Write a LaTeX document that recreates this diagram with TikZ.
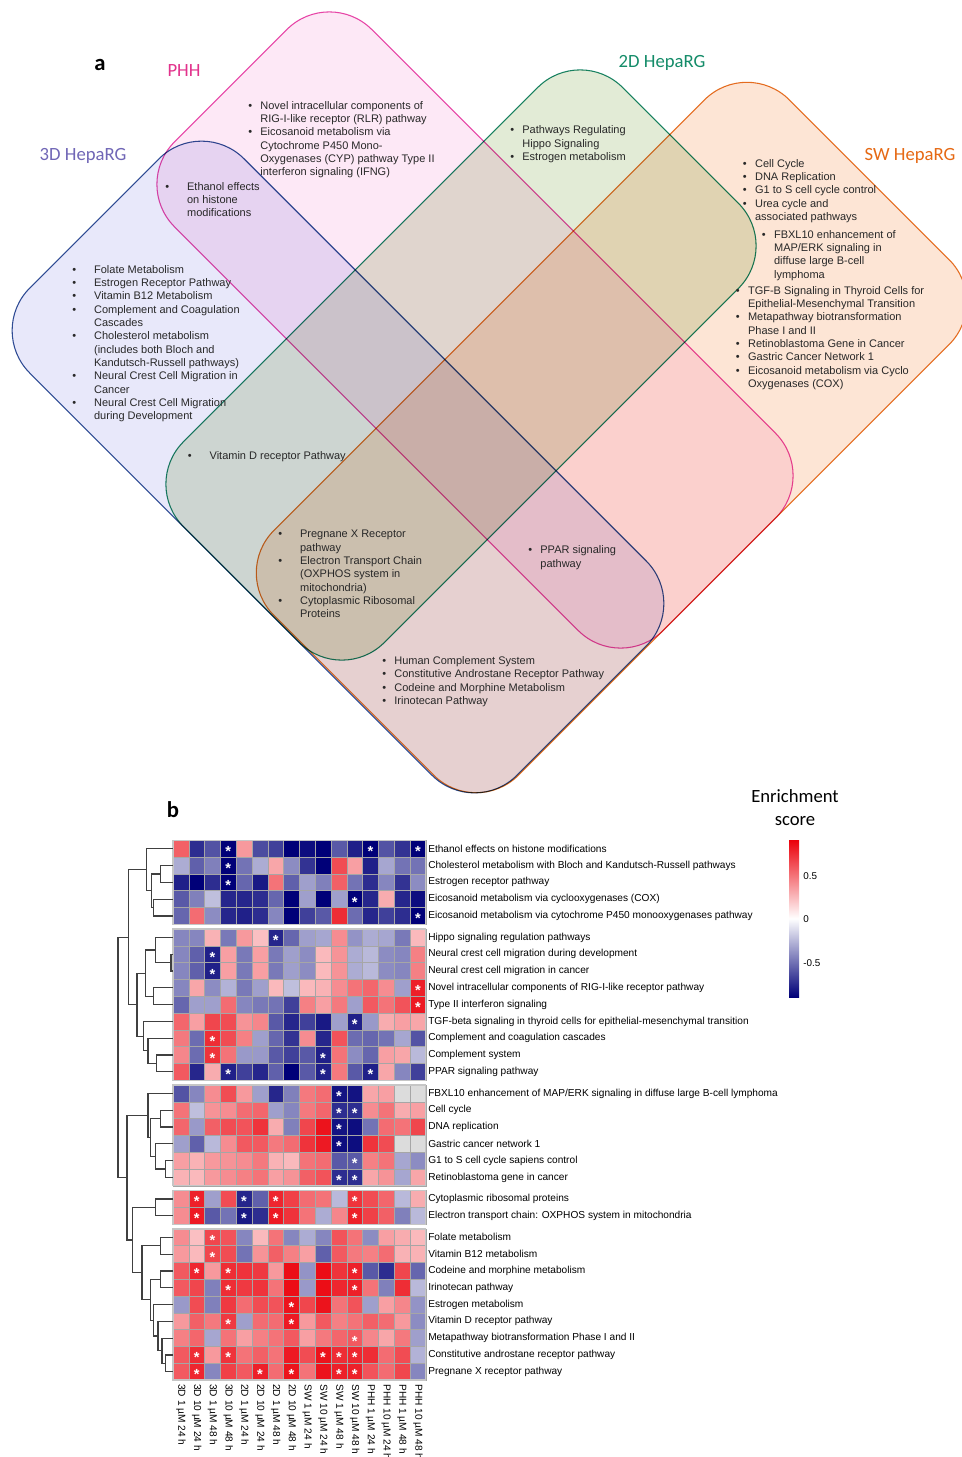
\documentclass[tikz,border=0pt]{standalone}
\usepackage{fontspec}
\setmainfont{Liberation Sans}
\newfontfamily\calfont{Carlito}
\usetikzlibrary{calc,positioning}

\definecolor{tdfill}{RGB}{232,232,250}
\definecolor{tdline}{RGB}{50,80,150}
\definecolor{tdtext}{RGB}{112,102,182}
\definecolor{phfill}{RGB}{253,232,246}
\definecolor{phline}{RGB}{232,72,170}
\definecolor{phtext}{RGB}{226,50,140}
\definecolor{twfill}{RGB}{226,235,214}
\definecolor{twline}{RGB}{25,135,105}
\definecolor{twtext}{RGB}{20,140,105}
\definecolor{swfill}{RGB}{253,229,213}
\definecolor{swline}{RGB}{230,115,35}
\definecolor{swtext}{RGB}{230,105,20}
\definecolor{hmred}{RGB}{235,0,10}
\definecolor{hmblue}{RGB}{0,0,120}
\definecolor{nacell}{RGB}{220,220,220}
\definecolor{itemtext}{RGB}{40,40,40}

\newcommand\px{0.75pt}
\newcommand\vlist[2]{\begin{tabular}[t]{@{}l@{\hspace{#1}}l@{}}#2\end{tabular}}
\newcommand\dend[4]{%
  \path let \p1=($(#2)!.5!(#3)$) in (#4*\px,\y1) coordinate (#1);
  \draw[dendro] (#2) -| (#1) |- (#3);}

\tikzset{
    venn/.style = {rectangle,
                   rounded corners=45pt,
                   line width=0.8pt,
                   inner sep=0pt},
    settitle/.style = {font=\calfont\fontsize{14}{17.25}\selectfont},
    panel/.style = {font=\calfont\bfseries\fontsize{17}{19}\selectfont},
    vtext/.style = {anchor=base west,
                    inner sep=0pt,
                    text=itemtext,
                    font=\fontsize{8.25}{10}\selectfont},
    cell/.style = {draw=gray!70,
                   line width=0.35pt},
    hmgroup/.style = {draw=gray!45,
                      line width=1pt},
    hmstar/.style = {text=white,
                     inner sep=0pt,
                     yshift=-2.2pt,
                     font=\bfseries\fontsize{11}{11}\selectfont},
    rowlabel/.style = {anchor=west,
                       inner sep=0pt,
                       font=\fontsize{7.6}{9}\selectfont},
    collabel/.style = {anchor=west,
                       rotate=-90,
                       inner sep=0pt,
                       font=\fontsize{7.6}{9}\selectfont},
    dendro/.style = {draw=black!75,
                     line width=0.9pt},
    colorbar/.style = {rectangle,
                       inner sep=0pt,
                       top color=hmred,
                       bottom color=hmblue,
                       middle color=white},
    ticklabel/.style = {anchor=west,
                        inner sep=0pt,
                        font=\fontsize{7.4}{9}\selectfont}
}

\begin{document}
\begin{tikzpicture}[x=0.75pt,y=-0.75pt]
\fill[white] (0,0) rectangle (962,1457);
\useasboundingbox (0,0) rectangle (962,1457);

% panel a
\begin{scope}[blend mode=multiply]
    \node[venn, draw=tdline, fill=tdfill, minimum width=689*\px, minimum height=303*\px, rotate=-45] (v3d) at (338,467) {};
    \node[venn, draw=phline, fill=phfill, minimum width=691*\px, minimum height=279*\px, rotate=-45] (vphh) at (475,330) {};
    \node[venn, draw=twline, fill=twfill, minimum width=621*\px, minimum height=284*\px, rotate=45] (v2d) at (461,365) {};
    \node[venn, draw=swline, fill=swfill, minimum width=729*\px, minimum height=346*\px, rotate=45] (vsw) at (611.5,437.5) {};
\end{scope}

\node[panel] (la) at (100,65) {a};
\node[settitle, text=phtext] (tphh) at (184,71) {PHH};
\node[settitle, text=tdtext] (t3d) at (83,156) {3D HepaRG};
\node[settitle, text=twtext] (t2d) at (662,63) {2D HepaRG};
\node[settitle, text=swtext] (tsw) at (910,156) {SW HepaRG};

\node[vtext] (iphh) at (248,109.2) {\vlist{6.2pt}{\textbullet & Novel intracellular components of\\
    & RIG-I-like receptor (RLR) pathway\\
    \textbullet & Eicosanoid metabolism via\\
    & Cytochrome P450 Mono-\\
    & Oxygenases (CYP) pathway Type II\\
    & interferon signaling (IFNG)}};
\node[vtext] (ieth) at (165,190.2) {\vlist{13.5pt}{\textbullet & Ethanol effects\\
    & on histone\\
    & modifications}};
\node[vtext] (i3d) at (72,273.2) {\vlist{13.5pt}{\textbullet & Folate Metabolism\\
    \textbullet & Estrogen Receptor Pathway\\
    \textbullet & Vitamin B12 Metabolism\\
    \textbullet & Complement and Coagulation\\
    & Cascades\\
    \textbullet & Cholesterol metabolism\\
    & (includes both Bloch and\\
    & Kandutsch-Russell pathways)\\
    \textbullet & Neural Crest Cell Migration in\\
    & Cancer\\
    \textbullet & Neural Crest Cell Migration\\
    & during Development}};
\node[vtext] (i2d) at (510,133.8) {\vlist{6.2pt}{\textbullet & Pathways Regulating\\
    & Hippo Signaling\\
    \textbullet & Estrogen metabolism}};
\node[vtext] (isw) at (742.7,167.2) {\vlist{6.2pt}{\textbullet & Cell Cycle\\
    \textbullet & DNA Replication\\
    \textbullet & G1 to S cell cycle control\\
    \textbullet & Urea cycle and\\
    & associated pathways}};
\node[vtext] (ifbx) at (761.7,238.2) {\vlist{6.2pt}{\textbullet & FBXL10 enhancement of\\
    & MAP/ERK signaling in\\
    & diffuse large B-cell\\
    & lymphoma}};
\node[vtext] (itgf) at (735.7,294.2) {\vlist{6.2pt}{\textbullet & TGF-B Signaling in Thyroid Cells for\\
    & Epithelial-Mesenchymal Transition\\
    \textbullet & Metapathway biotransformation\\
    & Phase I and II\\
    \textbullet & Retinoblastoma Gene in Cancer\\
    \textbullet & Gastric Cancer Network 1\\
    \textbullet & Eicosanoid metabolism via Cyclo\\
    & Oxygenases (COX)}};
\node[vtext] (ivd) at (187.5,459.5) {\vlist{13.5pt}{\textbullet & Vitamin D receptor Pathway}};
\node[vtext] (ipxr) at (278,537.8) {\vlist{13.5pt}{\textbullet & Pregnane X Receptor\\
    & pathway\\
    \textbullet & Electron Transport Chain\\
    & (OXPHOS system in\\
    & mitochondria)\\
    \textbullet & Cytoplasmic Ribosomal\\
    & Proteins}};
\node[vtext] (ippar) at (528,553.8) {\vlist{6.2pt}{\textbullet & PPAR signaling\\
    & pathway}};
\node[vtext] (icar) at (382,664.5) {\vlist{6.2pt}{\textbullet & Human Complement System\\
    \textbullet & Constitutive Androstane Receptor Pathway\\
    \textbullet & Codeine and Morphine Metabolism\\
    \textbullet & Irinotecan Pathway}};

% panel b
\node[panel] (lb) at (173,810) {b};
\node[settitle, align=center] (cbtitle) at (795,808) {Enrichment\\score};
\node[colorbar, minimum width=10*\px, minimum height=157*\px] (cbar) at (794,918.5) {};
\node[ticklabel] (tk1) at (803,876) {0.5};
\node[ticklabel] (tk2) at (803,919) {0};
\node[ticklabel] (tk3) at (803,963) {-0.5};

\foreach \vals [count=\ri] in {
    {2.5,-3.3,-2.7,-4,1.6,-2.8,-3,-4,-3.8,-4,-2.6,-3.5,-4,-2.7,-3.2,-4},
    {-1.3,-2.5,-2,-4,-2.2,-1.3,1.4,-1.8,-3.2,-4,2.8,1.5,-3.5,-1.4,-2.2,-2.2},
    {-3.5,-4,-3.3,-4,-2.4,-3.6,2.2,-2.5,-1.5,-2,2.5,-2.2,-3.3,-1.9,-3.2,-1.8},
    {-2.6,-2,-1,-3.4,-3.4,-3.3,-2.4,-4,-1.5,-4,-1.5,-4,-3.4,1.3,-3.4,-3.8},
    {-2.4,2.3,-1.8,-3.4,-3.5,-3.3,-1.9,-4,-3,-2.6,3.3,-2.3,-3.4,-3,-3.3,-4},
    {-1.9,-1.9,1.2,-2.1,1.6,1,-3.4,-2.4,-1.5,-1.4,1.8,-1.7,-1.3,-1.4,-2.1,1.1},
    {-1.9,-2.5,-3.5,1.5,-2.1,1.5,-2.1,-1.5,-1.8,1.1,1.7,-1.3,-1.1,-1.8,-1.9,2},
    {-1.9,-2.5,-3.5,1.5,-2.1,1.5,-2.1,-1.5,-1.8,1.1,1.7,-1.3,-1.1,-1.8,-1.9,2},
    {-1.9,1.4,-1.8,-1.2,-2.1,-1.5,1.1,-1,1.1,1.2,1.8,2.2,2.4,1.8,-1.5,3.5},
    {-2.4,-1.5,-1.5,2.3,-1.9,-2.1,-2.2,-3,2,1.5,2.1,-1.5,2.6,2.2,2.7,3.6},
    {2.4,1.5,2.9,2.8,1.7,1.9,-2.6,-3.4,-3,-3.6,-1.5,-3.5,-1.6,1.3,1.5,1.4},
    {2.1,-2.3,3.3,2.8,2,-1.5,-2.4,-3.2,1.8,-3.4,2.7,-2.3,-2.4,-2.2,-1.4,-2.7},
    {1.9,-2.3,3.2,2.2,-1.6,-1.6,-2.6,-3,-2.6,-3.5,2.2,-1.8,-2.4,1.5,1.4,-1.1},
    {2.6,-3.4,1.3,-3.5,-3,-3.4,-2.5,-4,-2.6,-3.5,2.1,-2.6,-3.5,1.4,-1.9,-3},
    {-2.7,-1.9,1.8,2.8,1.6,-1.5,-3.4,-2,2.1,2.3,-3.7,-3.7,1.4,1.5,9,9},
    {2.2,-1,1.7,1.8,2.3,2.4,-1.5,-1.9,2.1,2.4,-3.3,-3.3,1.8,2.2,1.3,1.5},
    {2.4,-1.6,2.5,2.8,2.7,3.2,1.3,-2,2.9,3.7,-3.7,-3.8,-2.2,2.3,2.2,2.9},
    {-1.5,-2.5,-1.1,1.8,2.6,2.6,2.1,2.3,3.2,3.6,-3.8,-3.8,3.2,2.8,9,9},
    {1.5,1.2,1.6,1.7,1.8,2.1,1.2,1.1,2.2,2.3,-2.6,-2.6,2,2.2,-1.4,-1.8},
    {1.2,1.1,1.6,1.8,2,2.2,1.5,1.7,2.5,2.7,-3.3,-3.3,1.4,1.7,-1.4,1.4},
    {1.8,3.5,-1.5,2.8,-3.4,-2.5,3.4,3,2.3,2.2,-1.1,3.2,2.8,2.4,-1.1,1.3},
    {1.8,3.6,-2.6,-2.2,-3.6,-3.3,3.6,3.2,2.2,-1.3,1.9,3.5,3,2.5,-2,-1.1},
    {1.8,1,2.9,2.7,-1.9,1.1,2.2,-1.9,-1.3,-1.9,2.7,2.2,-1.8,1.5,1.3,1.1},
    {1.6,1.1,2.9,2.8,-2.2,1.7,2.5,2,1.5,-2.5,2.6,2.1,2,2.3,1.2,1.2},
    {2.6,3.4,1.6,3.3,3.2,3.1,1.6,3.8,-1.7,3.8,3.2,3.5,-2.6,-3.3,2.9,-2.4},
    {2.6,2.9,-2,3.3,3.1,3.2,2.2,3.8,-1.6,3.8,3.4,3.5,2.2,-2,3.3,-1.1},
    {-1.6,2.8,-2,3.1,2.3,2.8,2.7,3.7,2.9,3.7,2.2,2.7,-1.5,1.5,1.9,-1.7},
    {1.6,2.5,2.1,3.1,-1.5,2.3,2.3,3.6,1.6,2.6,2,2.2,2.5,2.3,1.6,-1.8},
    {2,2.4,-1.4,2.2,1.5,2,2.2,2.6,1.5,2.1,2.4,2.6,1.9,1.4,2.1,-1.5},
    {2.6,3.3,1.6,3.2,2.2,2.5,2.2,3.6,2.8,3.7,3.3,3.4,3.3,2.3,2.8,-1.2},
    {2.6,3.4,-1.9,3,2.6,3.5,2.3,3.7,2.2,3.7,3.5,3.5,2.7,2.3,2.9,-1.9}}{
    \pgfmathsetmacro\yt{840.3+(\ri-1)*16.8+4.75*((\ri>5)+(\ri>14)+(\ri>20)+(\ri>22))}
    \coordinate (L\ri) at (173,\yt+8.4);
    \foreach \val [count=\ci] in \vals {
        \pgfmathsetmacro\pct{min(100,abs(\val)*25)}
        \ifdim\val pt>5pt \colorlet{cellc}{nacell}\else
            \ifdim\val pt<0pt \colorlet{cellc}{hmblue!\pct!white}\else\colorlet{cellc}{hmred!\pct!white}\fi\fi
        \draw[cell, fill=cellc] ({173+(\ci-1)*15.8},\yt) rectangle ++(15.8,16.8);
    }
}
\foreach \gt/\gb in {840.3/924.3, 929.05/1080.25, 1085/1185.8, 1190.55/1224.15, 1228.9/1380.1}
    \draw[hmgroup] (173,\gt) rectangle (425.8,\gb);

\foreach \ci/\ri in {4/1,13/1,16/1,4/2,4/3,12/4,16/5,7/6,3/7,3/8,16/9,16/10,12/11,3/12,3/13,10/13,
    4/14,10/14,13/14,11/15,11/16,12/16,11/17,11/18,12/19,11/20,12/20,2/21,5/21,7/21,12/21,
    2/22,5/22,7/22,12/22,3/23,3/24,2/25,4/25,12/25,4/26,12/26,8/27,4/28,8/28,12/29,
    2/30,4/30,10/30,11/30,12/30,2/31,6/31,8/31,11/31,12/31}
    \node[hmstar] (s\ci-\ri) at ($(L\ri)+({(\ci-0.5)*15.8},0)$) {*};

\foreach \lab [count=\ri] in {Ethanol effects on histone modifications,
    Cholesterol metabolism with Bloch and Kandutsch-Russell pathways,
    Estrogen receptor pathway,
    Eicosanoid metabolism via cyclooxygenases (COX),
    Eicosanoid metabolism via cytochrome P450 monooxygenases pathway,
    Hippo signaling regulation pathways,
    Neural crest cell migration during development,
    Neural crest cell migration in cancer,
    Novel intracellular components of RIG-I-like receptor pathway,
    Type II interferon signaling,
    TGF-beta signaling in thyroid cells for epithelial-mesenchymal transition,
    Complement and coagulation cascades,
    Complement system,
    PPAR signaling pathway,
    FBXL10 enhancement of MAP/ERK signaling in diffuse large B-cell lymphoma,
    Cell cycle,
    DNA replication,
    Gastric cancer network 1,
    G1 to S cell cycle sapiens control,
    Retinoblastoma gene in cancer,
    Cytoplasmic ribosomal proteins,
    Electron transport chain: OXPHOS system in mitochondria,
    Folate metabolism,
    Vitamin B12 metabolism,
    Codeine and morphine metabolism,
    Irinotecan pathway,
    Estrogen metabolism,
    Vitamin D receptor pathway,
    Metapathway biotransformation Phase I and II,
    Constitutive androstane receptor pathway,
    Pregnane X receptor pathway}
    \node[rowlabel] (lab\ri) at ($(L\ri)+(255,0)$) {\lab};

\foreach \lab [count=\ci] in {3D 1 µM 24 h, 3D 10 µM 24 h, 3D 1 µM 48 h, 3D 10 µM 48 h,
    2D 1 µM 24 h, 2D 10 µM 24 h, 2D 1 µM 48 h, 2D 10 µM 48 h,
    SW 1 µM 24 h, SW 10 µM 24 h, SW 1 µM 48 h, SW 10 µM 48 h,
    PHH 1 µM 24 h, PHH 10 µM 24 h, PHH 1 µM 48 h, PHH 10 µM 48 h}
    \node[collabel] (col\ci) at ({173+(\ci-0.5)*15.8},1384) {\lab};

% dendrogram
\dend{a1}{L2}{L3}{160.3}
\dend{a2}{L4}{L5}{153.7}
\dend{a3}{a1}{a2}{151.3}
\dend{a4}{L1}{a3}{146.3}
\dend{b1}{L7}{L8}{171}
\dend{b2}{L6}{b1}{155.3}
\dend{b3}{L9}{L10}{153.7}
\dend{b4}{b2}{b3}{145.3}
\dend{b5}{L13}{L14}{156.3}
\dend{b6}{L12}{b5}{148}
\dend{b7}{L11}{b6}{143.7}
\dend{b8}{b4}{b7}{137}
\dend{t1}{a4}{b8}{128.7}
\dend{c1}{L16}{L17}{160.3}
\dend{c2}{L19}{L20}{165.3}
\dend{c3}{L18}{c2}{155.3}
\dend{c4}{c1}{c3}{150.3}
\dend{c5}{L15}{c4}{148}
\dend{d1}{L21}{L22}{155.3}
\dend{e1}{L23}{L24}{160.3}
\dend{e2}{L25}{L26}{160.3}
\dend{e3}{L30}{L31}{165.3}
\dend{e4}{L29}{e3}{162}
\dend{e5}{L28}{e4}{158}
\dend{e6}{L27}{e5}{153.7}
\dend{e7}{e2}{e6}{150.3}
\dend{e8}{e1}{e7}{142}
\dend{t2}{d1}{e8}{132.7}
\dend{t3}{c5}{t2}{127}
\dend{root}{t1}{t3}{118}
\end{tikzpicture}
\end{document}
